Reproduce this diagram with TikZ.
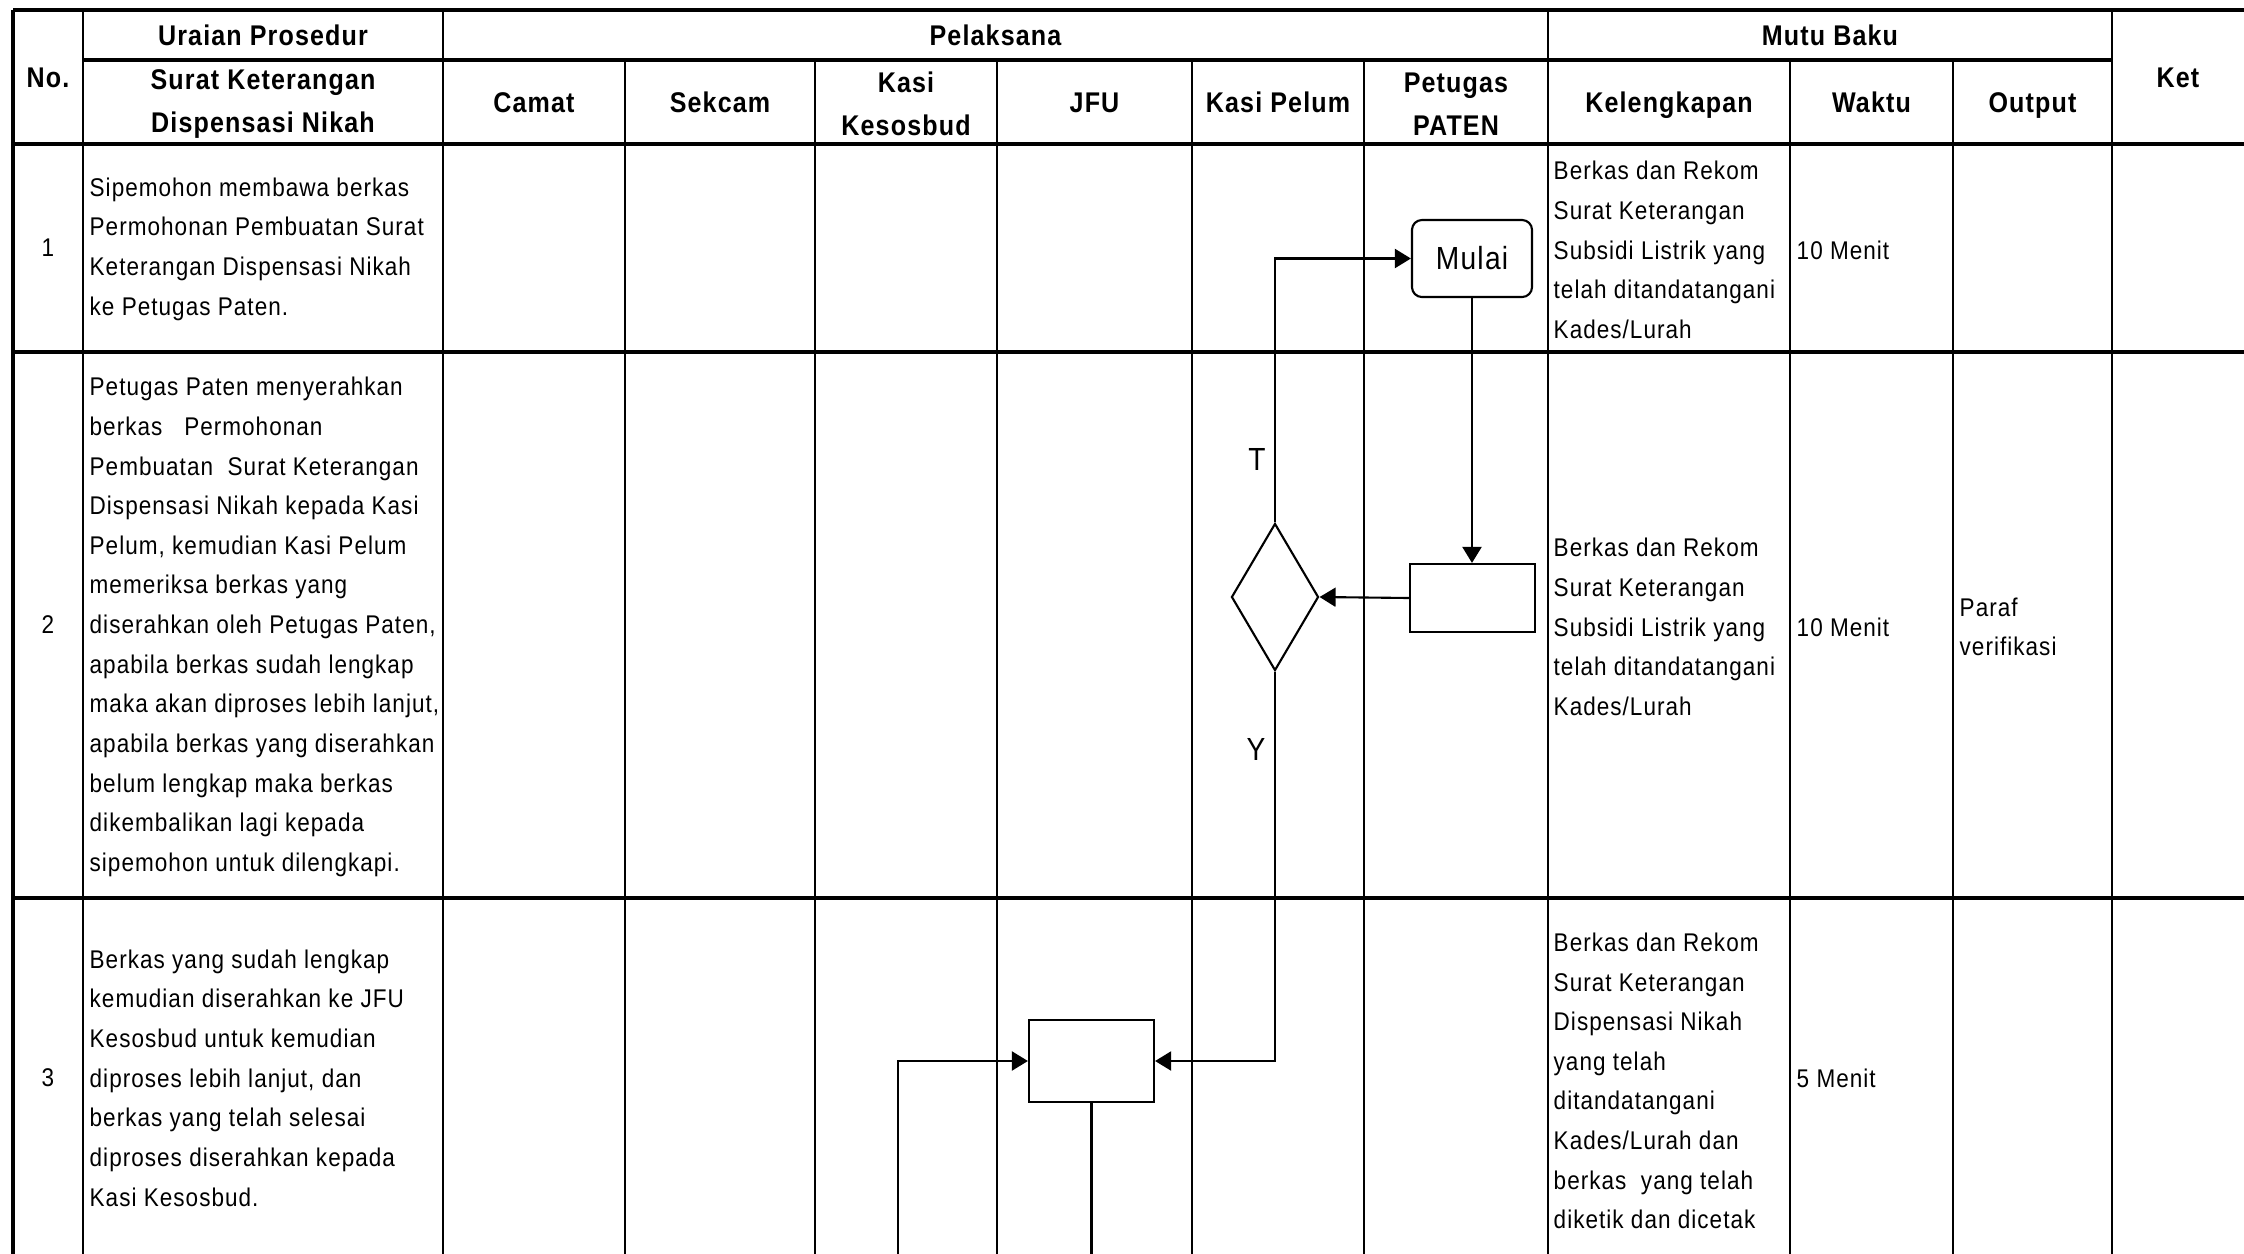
\documentclass[tikz,border=0pt]{standalone}
\usepackage{fontspec}
\setmainfont{Liberation Sans}
\newfontfamily\nf[FakeStretch=0.88,LetterSpace=4]{Liberation Sans}
\usetikzlibrary{arrows.meta,shapes.geometric}
\tikzset{
  gridline/.style={line width=0.65pt},
  rule/.style={line width=1.15pt},
  body/.style={font=\nf\fontsize{7.28pt}{11.27pt}\selectfont, align=left, anchor=west, inner sep=0pt},
  head/.style={font=\nf\bfseries\fontsize{8.1pt}{12.2pt}\selectfont, align=center, inner sep=0pt},
  headone/.style={head, text height=0.204cm, text depth=0.06cm},
  num/.style={font=\nf\fontsize{7.28pt}{11.27pt}\selectfont, inner sep=0pt},
  mulaibox/.style={draw, rounded corners=0.1cm, minimum width=1.2cm, minimum height=0.77cm, inner sep=0pt, font=\nf\fontsize{9.1pt}{11pt}\selectfont, line width=0.6pt},
  procbox/.style={draw, rectangle, inner sep=0pt, line width=0.6pt},
  decbox/.style={draw, diamond, minimum width=0.87cm, minimum height=1.47cm, inner sep=0pt, line width=0.6pt},
  conn/.style={line width=0.6pt, -{Triangle[length=0.16cm,width=0.19cm]}},
  plain/.style={line width=0.6pt},
  lbl/.style={font=\nf\fontsize{9.1pt}{11pt}\selectfont, inner sep=0pt}
}
\begin{document}
\begin{tikzpicture}[x=0.01cm,y=-0.01cm]
\useasboundingbox (0,0) rectangle (2244,1254);
\fill[white] (0,0) rectangle (2244,1254);
% vertical grid lines
\draw[line width=1pt] (13,10) -- (13,1254);
\foreach \x in {83,443,1548,2112} \draw[gridline] (\x,10) -- (\x,1254);
\foreach \x in {625,815,997,1192,1364,1790,1953} \draw[gridline] (\x,60) -- (\x,1254);
% horizontal rules
\draw[rule] (13,10) -- (2244,10);
\draw[line width=1pt] (83,60) -- (2112,60);
\foreach \y in {144,352,898} \draw[rule] (13,\y) -- (2244,\y);
% header texts
\node[headone] (hno) at (48,80) {No.};
\node[headone] (hur) at (263,38) {Uraian Prosedur};
\node[head] (hsk) at (263,104) {Surat Keterangan\\Dispensasi Nikah};
\node[headone] (hpel) at (995.5,38) {Pelaksana};
\node[headone] (hmb) at (1830,38) {Mutu Baku};
\node[headone] (hcam) at (534,105) {Camat};
\node[headone] (hsek) at (720,105) {Sekcam};
\node[head] (hkk) at (906,104) {Kasi\\Kesosbud};
\node[headone] (hjfu) at (1094.5,105) {JFU};
\node[headone] (hkp) at (1278,105) {Kasi Pelum};
\node[head] (hpp) at (1456,104) {Petugas\\PATEN};
\node[headone] (hkl) at (1669,105) {Kelengkapan};
\node[headone] (hwk) at (1871.5,105) {Waktu};
\node[headone] (hout) at (2032.5,105) {Output};
\node[headone] (hket) at (2178,80) {Ket};
% row numbers
\node[num] (n1) at (48,248) {1};
\node[num] (n2) at (48,625) {2};
\node[num] (n3) at (48,1078) {3};
% row 1
\node[body] (u1) at (89,249) {Sipemohon membawa berkas\\Permohonan Pembuatan Surat\\Keterangan Dispensasi Nikah\\ke Petugas Paten.};
\node[body] (k1) at (1553,250) {Berkas dan Rekom\\Surat Keterangan\\Subsidi Listrik yang\\telah ditandatangani\\Kades/Lurah};
\node[body] (w1) at (1796,250) {10 Menit};
% row 2
\node[body] (u2) at (89,627) {Petugas Paten menyerahkan\\berkas\ \ \ Permohonan\\Pembuatan\ \ Surat Keterangan\\Dispensasi Nikah kepada Kasi\\Pelum, kemudian Kasi Pelum\\memeriksa berkas yang\\diserahkan oleh Petugas Paten,\\apabila berkas sudah lengkap\\maka akan diproses lebih lanjut,\\apabila berkas yang diserahkan\\belum lengkap maka berkas\\dikembalikan lagi kepada\\sipemohon untuk dilengkapi.};
\node[body] (k2) at (1553,627) {Berkas dan Rekom\\Surat Keterangan\\Subsidi Listrik yang\\telah ditandatangani\\Kades/Lurah};
\node[body] (w2) at (1796,627) {10 Menit};
\node[body] (o2) at (1959,627) {Paraf\\verifikasi};
% row 3
\node[body] (u3) at (89,1078) {Berkas yang sudah lengkap\\kemudian diserahkan ke JFU\\Kesosbud untuk kemudian\\diproses lebih lanjut, dan\\berkas yang telah selesai\\diproses diserahkan kepada\\Kasi Kesosbud.};
\node[body] (k3) at (1553,1081) {Berkas dan Rekom\\Surat Keterangan\\Dispensasi Nikah\\yang telah\\ditandatangani\\Kades/Lurah dan\\berkas\ \ yang telah\\diketik dan dicetak};
\node[body] (w3) at (1796,1078) {5 Menit};
% flowchart
\node[mulaibox] (mulai) at (1472,258.5) {Mulai};
\node[procbox, minimum width=1.25cm, minimum height=0.68cm] (p1) at (1472.5,598) {};
\node[decbox] (d1) at (1275,597) {};
\node[procbox, minimum width=1.25cm, minimum height=0.82cm] (j1) at (1091.5,1061) {};
\coordinate (b1) at (1092,1254);
\coordinate (b2) at (898,1254);
\draw[conn] (mulai.south) -- (mulai.south |- p1.north);
\draw[conn] (p1.west) -- (d1.east);
\draw[conn] (d1.north) |- (mulai.west);
\draw[conn] (d1.south) |- (j1.east);
\draw[plain] (j1.south) -- (j1.south |- b1);
\draw[conn] (b2) |- (j1.west);
\node[lbl] (lt) at (1257,459) {T};
\node[lbl] (ly) at (1256,749) {Y};
\end{tikzpicture}
\end{document}
